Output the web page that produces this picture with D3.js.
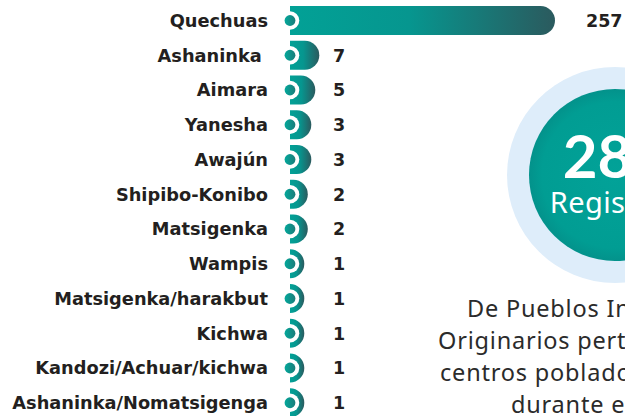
<!DOCTYPE html>
<html><head><meta charset="utf-8">
<script src="https://cdn.jsdelivr.net/npm/d3@7"></script>
<style>
html,body{margin:0;padding:0;background:#fff;overflow:hidden}
svg{display:block}
text{font-family:Lato,"Open Sans",sans-serif}
.lab{font-family:"DejaVu Sans",sans-serif}
.note{font-family:"Noto Sans",sans-serif}
</style></head>
<body>
<script>
const categories = ["Quechuas","Ashaninka ","Aimara","Yanesha","Awajún","Shipibo-Konibo","Matsigenka","Wampis","Matsigenka/harakbut","Kichwa","Kandozi/Achuar/kichwa","Ashaninka/Nomatsigenga"];
const values = [257,7,5,3,3,2,2,1,1,1,1,1];
const totalCaption = "Registros";
const noteLines = ["De Pueblos Indígenas u","Originarios pertenecientes a","centros poblados registrados","durante el 2023"];

const W = 625, H = 416;
const svg = d3.select("body").append("svg").attr("width", W).attr("height", H);
const defs = svg.append("defs");

const grad = defs.append("linearGradient").attr("id","barGrad").attr("x1","0").attr("x2","1").attr("y1","0").attr("y2","0");
grad.append("stop").attr("offset","0").attr("stop-color","#02a196");
grad.append("stop").attr("offset","0.45").attr("stop-color","#06968f");
grad.append("stop").attr("offset","1").attr("stop-color","#2b5a5e");

const dotGrad = defs.append("linearGradient").attr("id","dotGrad").attr("x1","0").attr("x2","1");
dotGrad.append("stop").attr("offset","0").attr("stop-color","#03a89b");
dotGrad.append("stop").attr("offset","1").attr("stop-color","#1a7d7a");

const radGrad = defs.append("radialGradient").attr("id","circGrad");
radGrad.append("stop").attr("offset","0").attr("stop-color","#02a298");
radGrad.append("stop").attr("offset","0.85").attr("stop-color","#019d93");
radGrad.append("stop").attr("offset","1").attr("stop-color","#03928b");

// right side summary circle
const cx = 615, cy = 175;
svg.append("circle").attr("cx",cx).attr("cy",cy).attr("r",108).attr("fill","#deedfa");
svg.append("circle").attr("cx",cx).attr("cy",cy).attr("r",86).attr("fill","url(#circGrad)");
svg.append("text").attr("x",cx).attr("y",178).attr("text-anchor","middle")
  .attr("fill","#fff").attr("font-size",60).attr("font-weight",700).text(d3.sum(values));
svg.append("text").attr("class","note").attr("x",cx).attr("y",213).attr("text-anchor","middle")
  .attr("fill","#fff").attr("font-size",29).attr("letter-spacing",0.4).attr("font-weight",400).text(totalCaption);

const noteX = [467, 438, 440, 511];
svg.append("g").selectAll("text").data(noteLines).join("text").attr("class","note")
  .attr("x",(d,i)=>noteX[i]).attr("y",(d,i)=>317 + i*32)
  .attr("fill","#2b2b2b").attr("font-size",23.5).attr("letter-spacing",0.8).attr("font-weight",400).text(d=>d);

// bars
const y = d3.scaleBand().domain(categories).range([3.1, 420.1]).paddingInner(0.165).paddingOuter(0.0825);
const x = d3.scaleLinear().domain([1,3,7,257]).range([14.3,21.3,29.3,265]);
const x0 = 290;
const h = 29;

const data = categories.map((c,i)=>({c, v: values[i]}));
const rows = svg.append("g").selectAll("g").data(data).join("g")
  .attr("transform", d => `translate(0,${y(d.c)+y.bandwidth()/2})`);

rows.append("path").attr("fill","url(#barGrad)").attr("d", d => {
  const w = x(d.v), ry = h/2, rx = Math.min(w, ry);
  return `M${x0},${-ry} H${x0+w-rx} A${rx},${ry} 0 0 1 ${x0+w},0 A${rx},${ry} 0 0 1 ${x0+w-rx},${ry} H${x0} Z`;
});
rows.append("circle").attr("cx",x0).attr("cy",0).attr("r",9.3).attr("fill","#fff");
rows.append("circle").attr("cx",x0).attr("cy",0).attr("r",5.4).attr("fill","url(#dotGrad)");

rows.append("text").attr("class","lab").attr("x",268).attr("y",0).attr("dy","0.36em").attr("text-anchor","end")
  .style("white-space","pre").attr("fill","#231f20").attr("font-size",17.8).attr("font-weight",700).text(d=>d.c);

rows.append("text").attr("class","lab").attr("x", d => x0 + x(d.v) > 330 ? x0 + x(d.v) + 31 : 333).attr("y",0).attr("dy","0.36em")
  .attr("fill","#231f20").attr("font-size",17.5).attr("font-weight",700).text(d=>d.v);
</script>
</body></html>
